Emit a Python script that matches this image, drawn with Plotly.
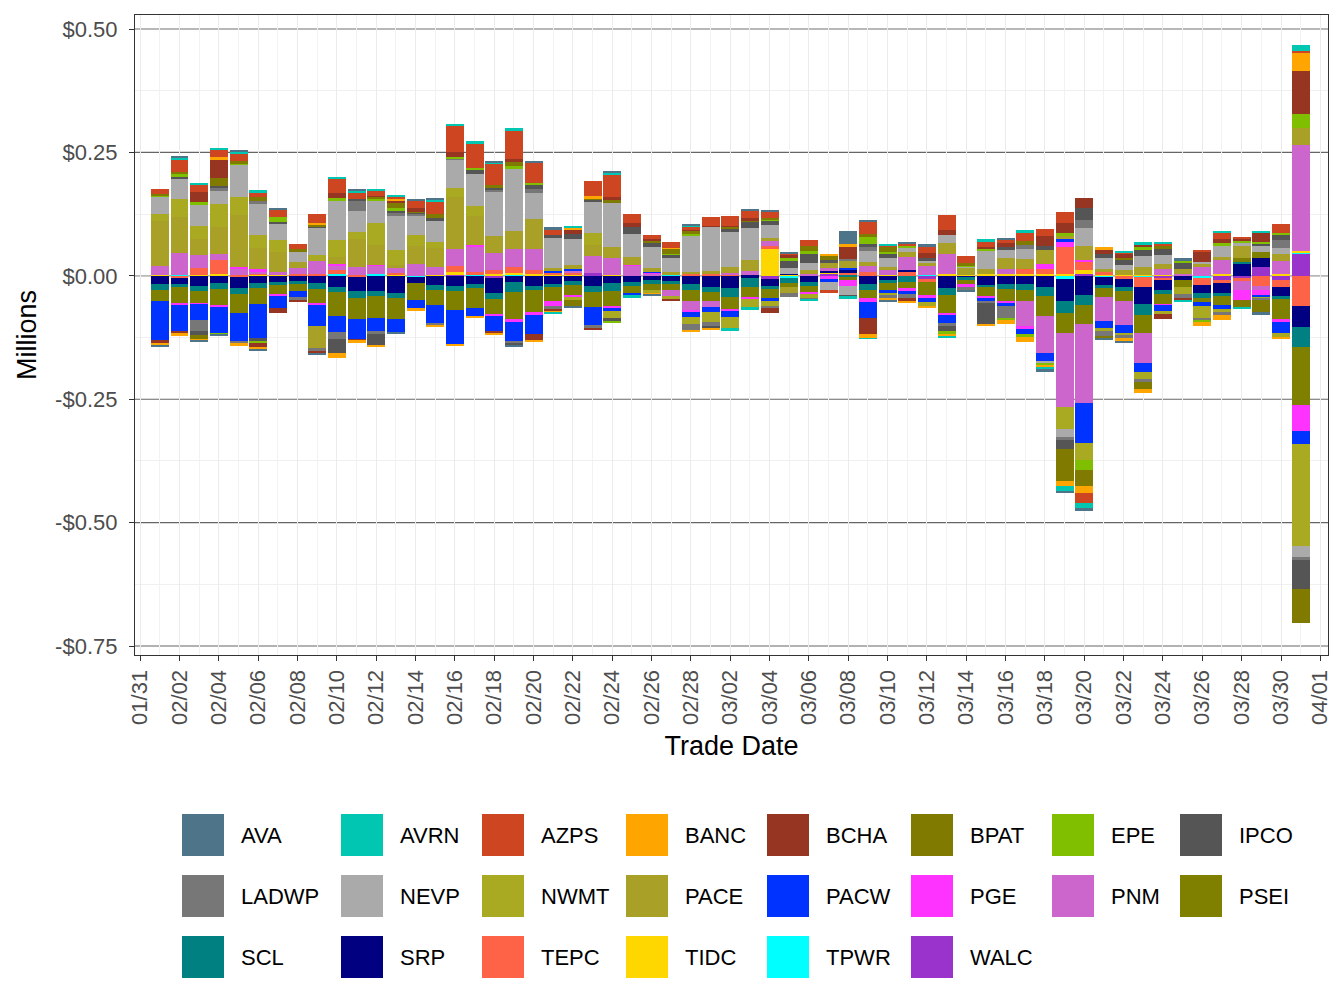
import plotly.graph_objects as go
import pandas as pd

# ---------------- data (millions of $) ----------------
trade_dates = pd.date_range("2023-02-01", "2023-03-31", freq="D")

series_names = ["AVA", "AVRN", "AZPS", "BANC", "BCHA", "BPAT", "EPE", "IPCO",
                "LADWP", "NEVP", "NWMT", "PACE", "PACW", "PGE", "PNM", "PSEI",
                "SCL", "SRP", "TEPC", "TIDC", "TPWR", "WALC"]

series_colors = ["#4E7489", "#00C6B2", "#CD4521", "#FFA500", "#963522", "#807A00",
                 "#80BF00", "#555555", "#777777", "#AAAAAA", "#AAAA22", "#A8A027",
                 "#0033FF", "#FF33FF", "#CC66CC", "#808000", "#008080", "#000080",
                 "#FF6347", "#FFD700", "#00FFFF", "#9933CC"]

AVA = [-.002, .002, -.002, -.002, .002, -.002, .002, 0, -.002, 0,
       .002, 0, -.004, .004, .002, 0, 0, .002, -.002, .002,
       .006, -.004, 0, .002, 0, -.002, 0, .002, 0, 0,
       .002, .002, .002, 0, 0, .026, .002, -.004, .002, .004,
       0, -.002, 0, .002, 0, -.004, -.004, -.004, -.002, -.002,
       0, 0, .004, 0, 0, 0, -.006, 0, 0]
AVRN = [0, .004, .004, .004, .004, .006, 0, 0, 0, .002,
        .004, .002, .002, 0, .004, .002, .004, .002, .006, 0,
        -.002, .002, 0, .004, -.004, 0, 0, .002, 0, -.006,
        -.006, 0, 0, -.004, 0, -.004, -.002, .002, 0, 0,
        -.002, 0, .004, 0, .004, -.004, -.012, -.012, 0, .002,
        .004, .002, -.002, 0, .002, -.002, .002, 0, .012]
AZPS = [.011, .024, .016, .014, .016, .008, .014, .010, .018, .030,
        .012, .010, .006, .014, .024, .054, .050, .044, .056, .042,
        .010, 0, .032, .046, .018, .008, .012, .006, .018, .020,
        .016, .012, .002, .012, -.004, 0, .026, .002, .004, .014,
        .032, .016, .012, .008, .018, .014, .022, -.020, 0, .002,
        0, .004, 0, .002, .014, .002, 0, .018, .002]
BANC = [-.004, -.004, -.002, .006, -.004, -.004, 0, 0, .004, -.010,
        -.006, -.002, .002, -.004, -.004, -.002, -.002, -.002, 0, -.002,
        -.002, .004, .004, 0, 0, -.002, .002, -.004, -.004, 0,
        0, 0, 0, 0, .002, .004, -.008, -.006, -.002, -.004,
        -.006, 0, -.002, -.008, -.012, -.004, -.010, -.014, .006, -.008,
        -.008, 0, 0, -.008, -.010, 0, 0, -.004, .038]
BCHA = [-.006, -.004, .020, .036, 0, -.010, -.010, -.006, -.004, .010,
        -.002, .002, .006, .008, 0, .010, 0, -.006, .006, -.014,
        -.006, .008, -.004, .006, .010, .002, -.006, .002, .002, .002,
        .004, -.010, .008, 0, 0, .026, -.033, 0, -.008, .010,
        .010, 0, .002, .008, 0, .020, .022, .020, .008, .010,
        .006, -.010, -.004, .022, .008, .004, .020, 0, .087]
BPAT = [.002, .004, -.010, .018, .004, .008, 0, .006, .004, 0,
        0, .004, .010, .002, .008, 0, 0, .006, .008, 0,
        0, -.014, .002, .006, 0, .006, .010, .006, 0, .004,
        .002, .004, 0, .010, .010, 0, .004, .012, 0, 0,
        0, .004, 0, 0, .008, 0, -.065, -.033, -.004, .002,
        -.014, .008, 0, 0, 0, -.016, -.026, 0, -.069]
EPE = [.002, .007, .006, -.002, .003, -.002, .010, 0, 0, .004,
       0, .004, .004, 0, 0, .002, .004, 0, .006, .004,
       0, 0, 0, -.002, 0, 0, .002, .004, 0, 0,
       0, .002, .004, .004, 0, 0, .016, .002, .004, 0,
       -.004, .002, .004, -.004, -.006, -.004, .006, -.020, 0, 0,
       .004, 0, .006, -.004, .004, .006, .002, .002, .028]
IPCO = [.001, .003, -.008, .002, 0, -.008, .004, 0, .002, -.029,
        .004, -.024, .006, .002, .006, 0, .008, .004, -.006, .008,
        .006, .010, .004, -.008, .014, .008, .006, 0, -.004, .006,
        .014, .010, .016, .020, .006, -.002, .004, .010, 0, .004,
        -.012, 0, -.043, .006, 0, .008, -.018, .024, .008, .012,
        .014, .012, .012, 0, 0, 0, .006, .012, -.059]
LADWP = [0, 0, -.022, .008, -.006, .004, 0, -.004, -.006, -.014,
         .020, -.006, .004, .004, -.004, .002, 0, .004, -.002, .008,
         -.006, 0, -.006, 0, 0, 0, 0, -.012, -.008, 0,
         0, -.004, -.008, -.002, 0, .002, .010, -.004, -.008, 0,
         -.004, -.008, -.006, -.024, .008, 0, -.004, .018, -.012, -.004,
         -.004, 0, -.010, -.004, -.006, 0, -.002, .016, -.006]
NEVP = [.034, .042, .042, .026, .065, .065, .034, .022, .056, .081,
        .044, .044, .071, .040, .044, .058, .065, .089, .127, .052,
        .060, .054, .065, .089, .046, .042, .030, .073, .089, .071,
        .065, .026, .012, .014, -.018, -.020, .022, .018, .010, .006,
        .016, .003, .038, .016, .020, -.006, -.018, .036, .022, .010,
        .022, .018, 0, .004, .024, .006, .012, .012, -.022]
NWMT = [.015, .036, .026, .046, .036, .026, .024, 0, .012, .034,
        .014, .046, .030, .022, .012, .018, .020, 0, 0, 0,
        0, -.004, .024, -.014, 0, -.008, -.004, -.014, -.020, -.022,
        -.018, -.010, 0, -.010, 0, 0, 0, -.004, 0, -.008,
        0, 0, 0, 0, 0, 0, -.045, -.035, -.006, -.006,
        -.016, -.006, -.014, -.024, -.006, 0, -.002, -.010, -.208]
PACE = [.091, .072, .032, .054, .106, .043, .040, .012, -.045, .014,
        .056, .040, .006, .036, .038, .105, .060, .034, .036, .062,
        .006, .008, .022, .022, .016, .008, .004, .004, .006, .012,
        .022, .006, -.012, .008, .010, .016, .008, .006, .010, .006,
        .022, .014, .010, .022, .020, .028, .006, .028, .006, .010,
        .016, .010, .010, .006, .006, .024, 0, .014, .034]
PACW = [-.081, -.053, -.031, -.053, -.057, -.069, -.026, -.014, -.043, -.033,
        -.041, -.026, -.026, -.018, -.037, -.071, -.018, -.029, -.041, -.039,
        .004, .002, -.037, -.004, -.004, .002, 0, -.010, -.010, -.012,
        0, -.008, 0, 0, -.006, .004, -.031, -.008, -.006, -.010,
        -.018, 0, -.004, -.006, -.010, -.016, .006, -.081, -.014, -.016,
        -.018, -.012, 0, -.008, -.008, 0, -.006, -.022, -.026]
PGE = [0, -.004, -.002, -.002, .003, .004, -.002, 0, -.002, .003,
       0, .002, 0, 0, 0, 0, .002, -.004, -.004, -.006,
       -.010, -.004, 0, -.004, .002, .002, 0, -.004, 0, -.004,
       -.002, 0, 0, -.002, -.006, -.012, -.010, 0, -.004, -.004,
       -.002, -.006, -.004, -.004, -.006, .010, .010, .004, 0, 0,
       0, -.002, 0, 0, 0, -.020, -.010, -.006, -.053]
PNM = [.018, .045, .027, .013, .013, .005, .006, .012, .026, .009,
       .016, .017, .010, .024, .016, .036, .052, .036, .036, .042,
       0, .004, .034, .034, .020, .004, -.014, -.020, -.012, .003,
       .008, .010, 0, .004, .006, 0, .012, .010, .026, .018,
       .040, 0, 0, .010, -.049, -.075, -.149, -.159, -.049, -.049,
       -.061, .012, .004, .018, .028, -.018, -.008, .026, .216]
PSEI = [-.022, -.033, -.026, -.035, -.039, -.033, -.020, -.014, -.031, -.049,
        -.043, -.045, -.043, -.035, -.031, -.039, -.041, -.031, -.057, -.045,
        -.029, -.022, -.031, -.033, -.016, -.012, -.012, -.022, -.020, -.026,
        -.022, -.018, -.008, -.014, 0, -.004, -.016, -.014, -.014, -.028,
        -.039, -.008, -.020, -.026, -.024, -.041, -.041, -.039, -.018, -.020,
        -.037, -.022, -.014, -.010, -.020, .008, .012, -.041, -.116]
SCL = [-.012, -.006, -.010, -.012, -.012, -.010, -.004, -.006, -.012, -.010,
       -.014, -.010, -.010, 0, -.010, -.010, -.008, -.012, -.020, -.008,
       -.006, -.008, -.012, -.016, -.008, -.008, -.006, -.012, -.010, -.018,
       -.018, -.004, -.010, -.008, 0, -.004, -.012, -.006, -.012, 0,
       -.014, -.004, -.002, -.010, -.012, -.018, -.024, -.020, -.006, -.008,
       -.022, -.008, 0, -.010, -.004, .004, 0, -.004, -.041]
SRP = [-.016, -.012, -.020, -.014, -.022, -.014, -.014, -.010, -.014, -.022,
       -.028, -.031, -.035, -.012, -.018, -.020, -.016, -.031, -.012, -.020,
       -.016, -.010, -.020, -.014, -.012, -.008, -.010, -.016, -.022, -.024,
       -.004, -.016, .002, -.012, .004, .006, -.016, -.008, .004, 0,
       -.024, -.002, -.020, -.016, -.016, -.022, -.045, -.039, -.016, -.016,
       -.035, -.020, -.008, -.016, -.022, .024, .018, -.020, -.043]
TEPC = [0, -.005, .014, .029, -.002, .002, 0, .003, .004, .009,
        -.003, 0, .004, 0, 0, .012, .006, .008, .012, .008,
        .004, .004, 0, 0, 0, 0, 0, .004, .004, .003,
        0, .004, 0, 0, 0, .006, .008, 0, .008, -.006,
        0, 0, 0, 0, .010, .010, .054, .016, .006, -.006,
        -.020, -.002, 0, -.014, -.006, -.004, -.020, -.014, -.061]
TIDC = [.002, 0, .002, .003, .002, .002, .002, 0, 0, 0,
        .002, 0, .002, 0, .002, .004, 0, .003, .004, .004,
        .002, .003, 0, .002, 0, 0, 0, 0, 0, 0,
        .002, .056, .002, 0, .002, 0, 0, .002, 0, 0,
        .004, .002, .004, .004, .004, .004, .004, .008, .002, .002,
        .002, .002, 0, 0, .004, 0, 0, .004, .002]
TPWR = [0, .002, 0, 0, 0, 0, 0, 0, 0, .003,
        0, .003, 0, -.002, 0, 0, .002, 0, .002, 0,
        0, 0, 0, 0, 0, 0, .003, 0, 0, 0,
        0, 0, -.002, 0, 0, 0, 0, 0, 0, .002,
        0, 0, 0, 0, 0, 0, -.006, 0, -.002, 0,
        -.002, 0, 0, -.004, 0, 0, 0, 0, .002]
WALC = [0, 0, 0, 0, 0, 0, 0, 0, 0, 0,
        0, 0, 0, 0, 0, .003, 0, -.004, 0, 0,
        0, 0, .006, 0, 0, 0, 0, 0, 0, 0,
        0, -.006, -.002, 0, .004, 0, 0, 0, 0, -.006,
        0, -.002, 0, 0, 0, 0, 0, .004, 0, 0,
        0, -.006, 0, 0, -.008, -.006, .018, -.008, .046]

y_tick_values = [-0.75, -0.5, -0.25, 0.0, 0.25, 0.5]
y_tick_labels = ["-$0.75", "-$0.50", "-$0.25", "$0.00", "$0.25", "$0.50"]

series_values = [AVA, AVRN, AZPS, BANC, BCHA, BPAT, EPE, IPCO, LADWP, NEVP, NWMT,
                 PACE, PACW, PGE, PNM, PSEI, SCL, SRP, TEPC, TIDC, TPWR, WALC]

# ---------------- figure ----------------
FONT = "Liberation Sans, Arial, Helvetica, sans-serif"
DAY_MS = 86400000
W, H = 1344, 1008
PL, PR, PT, PB = 135, 1328, 15, 655   # panel edges in px

fig = go.Figure()
# ggplot stacks the first level farthest from zero -> add traces in reverse order
for name, color, vals in reversed(list(zip(series_names, series_colors, series_values))):
    fig.add_trace(go.Bar(
        x=trade_dates, y=vals, name=name,
        marker=dict(color=color, line=dict(width=0)),
        width=0.9 * DAY_MS, showlegend=False,
    ))

x0 = pd.Timestamp("2023-01-31") - pd.Timedelta(hours=0.27 * 24)
x1 = pd.Timestamp("2023-04-01") + pd.Timedelta(hours=0.39 * 24)

# horizontal reference lines drawn behind bars (major y grid replaced by these)
shapes = []
for yv in [0.5, 0.0]:
    shapes.append(dict(type="line", xref="paper", yref="y", x0=0, x1=1, y0=yv, y1=yv,
                       line=dict(color="#B8B8B8", width=1.8), layer="below"))
for yv in [0.25, -0.25, -0.5, -0.75]:
    shapes.append(dict(type="line", xref="paper", yref="y", x0=0, x1=1, y0=yv, y1=yv,
                       line=dict(color="#666666", width=1.1), layer="below"))

# custom ggplot-like legend (3 rows x 8 columns)
def px2x(px):
    return (px - PL) / (PR - PL)

def py2y(py):
    return (PB - py) / (PB - PT)

legend_cols = [182, 341, 482, 626, 767, 911, 1052, 1180]
legend_rows = [814, 875, 936]
SW = 42
annotations = []
for i, (name, color) in enumerate(zip(series_names, series_colors)):
    cx = legend_cols[i % 8]
    ry = legend_rows[i // 8]
    shapes.append(dict(type="rect", xref="paper", yref="paper",
                       x0=px2x(cx), x1=px2x(cx + SW), y0=py2y(ry + SW), y1=py2y(ry),
                       fillcolor=color, line=dict(width=0), layer="above"))
    annotations.append(dict(xref="paper", yref="paper", x=px2x(cx + 57), y=py2y(ry + SW / 2),
                            text=name, showarrow=False, xanchor="left", yanchor="middle",
                            font=dict(family=FONT, size=22, color="#000000")))

fig.update_layout(
    width=W, height=H,
    margin=dict(l=PL, r=W - PR, t=PT, b=H - PB),
    paper_bgcolor="white", plot_bgcolor="white",
    barmode="relative", bargap=0,
    showlegend=False,
    font=dict(family=FONT, color="#4D4D4D"),
    shapes=shapes, annotations=annotations,
    xaxis=dict(
        type="date", range=[x0, x1],
        tickmode="linear", tick0="2023-01-31", dtick=2 * DAY_MS,
        tickformat="%m/%d", tickangle=-90,
        tickfont=dict(family=FONT, size=22, color="#4D4D4D"),
        ticks="outside", ticklen=5, tickwidth=1.1, tickcolor="#333333",
        showgrid=True, gridcolor="#EBEBEB", gridwidth=1.3,
        minor=dict(tick0="2023-02-01", dtick=2 * DAY_MS, showgrid=True,
                   gridcolor="#F2F2F2", gridwidth=0.7),
        showline=True, mirror=True, linecolor="#333333", linewidth=1.2,
        zeroline=False,
        title=dict(text="Trade Date", standoff=12,
                   font=dict(family=FONT, size=27, color="#000000")),
    ),
    yaxis=dict(
        range=[-0.7682, 0.5284],
        tickmode="array", tickvals=y_tick_values, ticktext=y_tick_labels,
        tickfont=dict(family=FONT, size=22, color="#4D4D4D"),
        ticks="outside", ticklen=5, tickwidth=1.1, tickcolor="#333333",
        ticklabelstandoff=7,
        showgrid=False,
        minor=dict(tickvals=[-0.625, -0.375, -0.125, 0.125, 0.375], showgrid=True,
                   gridcolor="#F0F0F0", gridwidth=0.8, ticks=""),
        showline=True, mirror=True, linecolor="#333333", linewidth=1.2,
        zeroline=False,
        title=dict(text="Millions", standoff=10,
                   font=dict(family=FONT, size=27, color="#000000")),
    ),
)

fig.write_html("out.html")
